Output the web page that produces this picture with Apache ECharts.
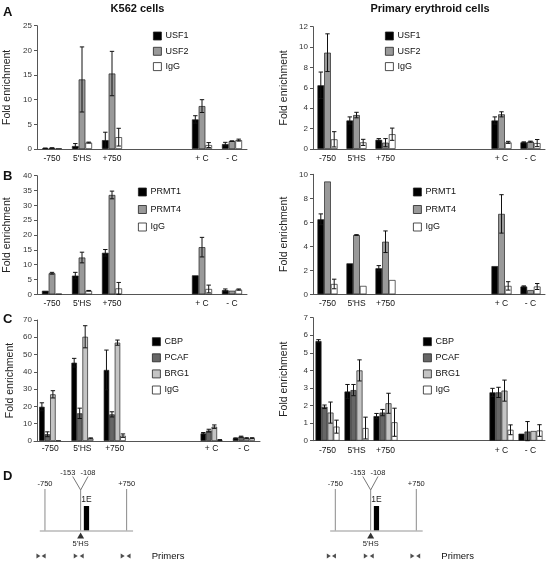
<!DOCTYPE html>
<html><head><meta charset="utf-8">
<script src="https://cdn.jsdelivr.net/npm/echarts@6/dist/echarts.min.js"></script>
<style>html,body{margin:0;padding:0;background:#fff}#c{width:558px;height:562px}</style>
</head><body><div id="c"></div>
<script>
// ---------- categories ----------
const cats7 = ['-750', "5'HS", '+750', '', '', '+ C', '- C'];
const cats8 = ['-750', "5'HS", '+750', '', '', '', '+ C', '- C'];

// ---------- Panel A : USF ----------
const usf1K = [0.15, 0.6, 1.8, null, null, 6.0, 1.0];
const usf1KErr = [0.05, 0.5, 1.6, 0, 0, 0.75, 0.35];
const usf2K = [0.2, 14.1, 15.3, null, null, 8.7, 1.6];
const usf2KErr = [0.05, 6.6, 4.5, 0, 0, 1.3, 0.05];
const igGKa = [0.15, 1.3, 2.4, null, null, 0.8, 1.8];
const igGKaErr = [0, 0.1, 1.8, 0, 0, 0.5, 0.2];

const usf1P = [6.25, 2.8, 0.9, null, null, null, 2.8, 0.65];
const usf1PErr = [1.3, 0.35, 0.12, 0, 0, 0, 0.35, 0.05];
const usf2P = [9.45, 3.33, 0.62, null, null, null, 3.4, 0.72];
const usf2PErr = [1.85, 0.27, 0.4, 0, 0, 0, 0.25, 0.05];
const igGPa = [0.95, 0.65, 1.45, null, null, null, 0.65, 0.58];
const igGPaErr = [0.75, 0.3, 0.6, 0, 0, 0, 0.1, 0.35];

// ---------- Panel B : PRMT ----------
const prmt1K = [1.2, 6.3, 14.0, null, null, 6.4, 1.4];
const prmt1KErr = [0, 1.1, 1.1, 0, 0, 0, 0.4];
const prmt4K = [7.1, 12.4, 33.5, null, null, 15.9, 1.2];
const prmt4KErr = [0.3, 1.8, 1.3, 0, 0, 3.3, 0];
const igGKb = [0.2, 1.2, 2.0, null, null, 1.8, 1.6];
const igGKbErr = [0, 0.1, 2.0, 0, 0, 1.3, 0.2];

const prmt1P = [6.25, 2.58, 2.17, null, null, null, 2.35, 0.65];
const prmt1PErr = [0.45, 0, 0.22, 0, 0, 0, 0, 0.05];
const prmt4P = [9.4, 4.94, 4.38, null, null, null, 6.7, 0.35];
const prmt4PErr = [0, 0.03, 0.9, 0, 0, 0, 1.6, 0];
const igGPb = [0.86, 0.7, 1.19, null, null, null, 0.7, 0.65];
const igGPbErr = [0.4, 0, 0, 0, 0, 0, 0.35, 0.25];

// ---------- Panel C : CBP / PCAF / BRG1 ----------
const cbpK = [19.8, 45.3, 41.1, null, null, 4.4, 1.6];
const cbpKErr = [2.3, 2.5, 11.5, 0, 0, 0.5, 0.2];
const pcafK = [3.9, 16.0, 15.4, null, null, 6.0, 2.5];
const pcafKErr = [1.4, 3.0, 1.5, 0, 0, 0.8, 0.3];
const brg1K = [27.0, 60.3, 56.9, null, null, 8.3, 1.6];
const brg1KErr = [2.1, 6.4, 1.5, 0, 0, 1.0, 0.3];
const igGKc = [0.5, 1.5, 3.1, null, null, 0.6, 1.6];
const igGKcErr = [0, 0.3, 1.0, 0, 0, 0.2, 0.3];

const cbpP = [5.67, 2.8, 1.4, null, null, null, 2.75, 0.4];
const cbpPErr = [0.08, 0.4, 0.15, 0, 0, 0, 0.23, 0];
const pcafP = [1.93, 2.88, 1.6, null, null, null, 2.75, 0.52];
const pcafPErr = [0.1, 0.32, 0.18, 0, 0, 0, 0.29, 0.57];
const brg1P = [1.6, 4.0, 2.13, null, null, null, 2.85, 0.55];
const brg1PErr = [0.6, 0.6, 0.57, 0, 0, 0, 0.6, 0];
const igGPc = [0.8, 0.72, 1.05, null, null, null, 0.62, 0.58];
const igGPcErr = [0.37, 0.62, 0.8, 0, 0, 0, 0.28, 0.33];

// ---------- Panel D : schematic (bp coordinates) ----------
const dBaseline = [[-845, 0], [868, 0]];
const dSiteLabels = ['-750', '+750'];
const dSitePos = [-750, 750];
const dHsPos = -95;
const dVTipLabels = ['-153', '-108'];
const dVTipPos = [-240, 40];
const dVLabelPos = [-330, 40];
const dExon = {name: '1E', from: -36, to: 61};
const dPrimerRight = [-870, -185, 678];
const dPrimerLeft = [-775, -75, 785];

// ---------- helpers ----------
const FONT = 'Liberation Sans, Arial, sans-serif';
const C_BLACK = '#000000', C_GRAY = '#999999', C_DARK = '#666666', C_LIGHT = '#c4c4c4', C_WHITE = '#ffffff';

function barS(name, vals, color, gi, bw) {
  return {type: 'bar', name, xAxisIndex: gi, yAxisIndex: gi, barWidth: bw, barGap: '0%',
    data: vals.map(v => v == null ? '-' : v), silent: true,
    itemStyle: {color, borderColor: '#222', borderWidth: 0.7}};
}
function errS(vals, errs, gi, idx, n, bw) {
  const data = [];
  vals.forEach((v, i) => { if (v != null && errs[i] > 0) data.push([i, v, errs[i]]); });
  return {type: 'custom', xAxisIndex: gi, yAxisIndex: gi, z: 5, silent: true, data,
    renderItem(params, api) {
      const c = api.value(0), v = api.value(1), e = api.value(2);
      const off = (idx - (n - 1) / 2) * bw;
      const t = api.coord([c, v + e]);
      const b = api.coord([c, Math.max(0, v - e)]);
      const x = t[0] + off, cap = 2.2;
      const st = {stroke: '#111', lineWidth: 1};
      return {type: 'group', children: [
        {type: 'line', shape: {x1: x, y1: t[1], x2: x, y2: b[1]}, style: st},
        {type: 'line', shape: {x1: x - cap, y1: t[1], x2: x + cap, y2: t[1]}, style: st},
        {type: 'line', shape: {x1: x - cap, y1: b[1], x2: x + cap, y2: b[1]}, style: st}
      ]};
    }};
}
function group(gi, list, bw) {
  const out = [];
  list.forEach((s, i) => {
    out.push(barS(s[0], s[1], s[3], gi, bw));
    out.push(errS(s[1], s[2], gi, i, list.length, bw));
  });
  return out;
}
function yAx(gi, max, interval, gap, offset) {
  return {type: 'value', gridIndex: gi, min: 0, max, interval, offset: offset || 0,
    name: 'Fold enrichment', nameLocation: 'middle', nameGap: gap, nameRotate: 90,
    nameTextStyle: {fontSize: 10.5, color: '#222', fontFamily: FONT},
    axisLine: {show: true, lineStyle: {color: '#555', width: 1}},
    axisTick: {show: true, length: 3, lineStyle: {color: '#555'}},
    axisLabel: {fontSize: 8, color: '#333', margin: 5, fontFamily: FONT},
    splitLine: {show: false}};
}
function xAx(gi, cats, margin) {
  return {type: 'category', gridIndex: gi, data: cats,
    axisTick: {show: false}, axisLine: {lineStyle: {color: '#555', width: 1}},
    axisLabel: {interval: 0, fontSize: 8.5, color: '#111', margin, fontFamily: FONT},
    splitLine: {show: false}};
}
function legendAt(names, left, top, gap) {
  return {data: names, left, top, orient: 'vertical', itemGap: gap, itemWidth: 8, itemHeight: 8,
    icon: 'rect', selectedMode: false,
    itemStyle: {borderColor: '#222', borderWidth: 0.8},
    textStyle: {fontSize: 9, color: '#111', fontFamily: FONT, lineHeight: 10, padding: [0, 0, 0, -1]}};
}
function schematic(gi) {
  const S = [];
  S.push({type: 'line', xAxisIndex: gi, yAxisIndex: gi, data: dBaseline, symbol: 'none', silent: true,
    lineStyle: {color: '#b8b8b8', width: 1.6}});
  const vert = dSitePos.map(p => [p, 42]).concat([[dHsPos, 41]]);
  S.push({type: 'custom', xAxisIndex: gi, yAxisIndex: gi, silent: true, data: vert,
    renderItem(params, api) {
      const a = api.coord([api.value(0), 0]), b = api.coord([api.value(0), api.value(1)]);
      return {type: 'line', shape: {x1: a[0], y1: a[1], x2: b[0], y2: b[1]},
        style: {stroke: '#8a8a8a', lineWidth: 1}};
    }});
  S.push({type: 'line', xAxisIndex: gi, yAxisIndex: gi, symbol: 'none', silent: true,
    data: [[dVTipPos[0], 54.5], [dHsPos, 41], [dVTipPos[1], 54.5]],
    lineStyle: {color: '#777', width: 1}});
  S.push({type: 'custom', xAxisIndex: gi, yAxisIndex: gi, silent: true, data: [[dExon.from, 0, dExon.to, 25]],
    renderItem(params, api) {
      const a = api.coord([api.value(0), api.value(3)]), b = api.coord([api.value(2), api.value(1)]);
      return {type: 'rect', shape: {x: a[0], y: a[1], width: b[0] - a[0], height: b[1] - a[1]},
        style: {fill: '#000'}};
    }});
  S.push({type: 'scatter', xAxisIndex: gi, yAxisIndex: gi, silent: true, data: [[dHsPos, -4.5]],
    symbol: 'triangle', symbolSize: [7, 6], itemStyle: {color: '#000'}});
  S.push({type: 'scatter', xAxisIndex: gi, yAxisIndex: gi, silent: true,
    data: dPrimerRight.map(p => [p, -25]), symbol: 'triangle', symbolSize: [5, 4], symbolRotate: -90,
    itemStyle: {color: '#222'}});
  S.push({type: 'scatter', xAxisIndex: gi, yAxisIndex: gi, silent: true,
    data: dPrimerLeft.map(p => [p, -25]), symbol: 'triangle', symbolSize: [5, 4], symbolRotate: 90,
    itemStyle: {color: '#222'}});
  const texts = [], tdata = [];
  dSiteLabels.forEach((l, i) => { texts.push([l, 7.5]); tdata.push([dSitePos[i], 47]); });
  dVTipLabels.forEach((l, i) => { texts.push([l, 7.5]); tdata.push([dVLabelPos[i], 57.7]); });
  texts.push([dExon.name, 8.5]); tdata.push([(dExon.from + dExon.to) / 2, 31]);
  texts.push(["5'HS", 7.5]); tdata.push([dHsPos, -13]);
  S.push({type: 'custom', xAxisIndex: gi, yAxisIndex: gi, silent: true, data: tdata,
    renderItem(params, api) {
      const p = api.coord([api.value(0), api.value(1)]);
      const t = texts[params.dataIndex];
      return {type: 'text', x: p[0], y: p[1],
        style: {text: t[0], fontSize: t[1], fontFamily: FONT, fill: '#222', align: 'center', verticalAlign: 'middle'}};
    }});
  return S;
}

const grids = [
  {left: 37, top: 25.7, width: 210, height: 123.3},
  {left: 313, top: 26.7, width: 232, height: 122.3},
  {left: 37, top: 175.7, width: 210, height: 118.6},
  {left: 313, top: 174.3, width: 232, height: 120},
  {left: 34, top: 320, width: 226, height: 121},
  {left: 313, top: 317.7, width: 232, height: 123},
  {left: 36.8, top: 471, width: 98, height: 90},
  {left: 327.2, top: 471, width: 97.2, height: 90}
];

const xAxes = [
  xAx(0, cats7, 5.5), xAx(1, cats8, 5.5), xAx(2, cats7, 5), xAx(3, cats8, 5),
  xAx(4, cats7, 3.5), xAx(5, cats8, 5),
  {type: 'value', gridIndex: 6, min: -900, max: 900, show: false},
  {type: 'value', gridIndex: 7, min: -900, max: 900, show: false}
];
const yAxes = [
  yAx(0, 25, 5, 24), yAx(1, 12, 2, 23), yAx(2, 40, 5, 24), yAx(3, 10, 2, 23),
  yAx(4, 70, 10, 21, -3), yAx(5, 7, 1, 23),
  {type: 'value', gridIndex: 6, min: -30, max: 60, show: false},
  {type: 'value', gridIndex: 7, min: -30, max: 60, show: false}
];

let series = [];
series = series.concat(group(0, [['USF1', usf1K, usf1KErr, C_BLACK], ['USF2', usf2K, usf2KErr, C_GRAY], ['IgG', igGKa, igGKaErr, C_WHITE]], 6.7));
series = series.concat(group(1, [['USF1', usf1P, usf1PErr, C_BLACK], ['USF2', usf2P, usf2PErr, C_GRAY], ['IgG', igGPa, igGPaErr, C_WHITE]], 6.7));
series = series.concat(group(2, [['PRMT1', prmt1K, prmt1KErr, C_BLACK], ['PRMT4', prmt4K, prmt4KErr, C_GRAY], ['IgG', igGKb, igGKbErr, C_WHITE]], 6.7));
series = series.concat(group(3, [['PRMT1', prmt1P, prmt1PErr, C_BLACK], ['PRMT4', prmt4P, prmt4PErr, C_GRAY], ['IgG', igGPb, igGPbErr, C_WHITE]], 6.7));
series = series.concat(group(4, [['CBP', cbpK, cbpKErr, C_BLACK], ['PCAF', pcafK, pcafKErr, C_DARK], ['BRG1', brg1K, brg1KErr, C_LIGHT], ['IgG', igGKc, igGKcErr, C_WHITE]], 5.5));
series = series.concat(group(5, [['CBP', cbpP, cbpPErr, C_BLACK], ['PCAF', pcafP, pcafPErr, C_DARK], ['BRG1', brg1P, brg1PErr, C_LIGHT], ['IgG', igGPc, igGPcErr, C_WHITE]], 6));
series = series.concat(schematic(6), schematic(7));

const txt = (s, x, y, size, bold, align) => ({type: 'text', x, y, silent: true,
  style: {text: s, fontSize: size, fontWeight: bold ? 'bold' : 'normal', fontFamily: FONT, fill: '#111',
    align: align || 'center', verticalAlign: 'middle'}});

const option = {
  animation: false,
  backgroundColor: '#fff',
  textStyle: {fontFamily: FONT},
  grid: grids,
  xAxis: xAxes,
  yAxis: yAxes,
  legend: [
    legendAt(['USF1', 'USF2', 'IgG'], 148, 26, 5.3),
    legendAt(['USF1', 'USF2', 'IgG'], 380, 26, 5.3),
    legendAt(['PRMT1', 'PRMT4', 'IgG'], 133, 182, 7.5),
    legendAt(['PRMT1', 'PRMT4', 'IgG'], 408, 182, 7.5),
    legendAt(['CBP', 'PCAF', 'BRG1', 'IgG'], 147, 331.7, 6.1),
    legendAt(['CBP', 'PCAF', 'BRG1', 'IgG'], 418, 331.7, 6.1)
  ],
  graphic: [
    txt('K562 cells', 137.5, 8.5, 11, true),
    txt('Primary erythroid cells', 430, 8.5, 11, true),
    txt('A', 3, 12.5, 13, true, 'left'),
    txt('B', 3, 176, 13, true, 'left'),
    txt('C', 3, 319, 13, true, 'left'),
    txt('D', 3, 476, 13, true, 'left'),
    txt('Primers', 151.7, 556, 9.5, false, 'left'),
    txt('Primers', 441.3, 556, 9.5, false, 'left')
  ],
  series
};
echarts.init(document.getElementById('c'), null, {renderer: 'canvas'}).setOption(option);
</script></body></html>
